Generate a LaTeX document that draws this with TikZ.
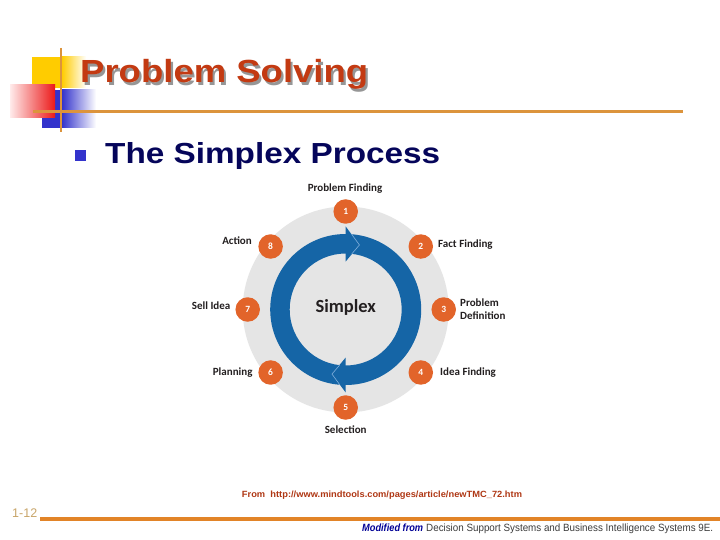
\documentclass[tikz,border=0pt]{standalone}
\usepackage{fontspec}
\setmainfont{Liberation Sans}
\newfontfamily\carl{Carlito}
\usepackage{graphicx}
\newcommand\fitw[2]{\resizebox{#1}{\height}{#2}}
\definecolor{titlered}{RGB}{195,58,18}
\definecolor{navytxt}{RGB}{5,5,90}
\definecolor{bulletblue}{RGB}{51,51,204}
\definecolor{sqyellow}{RGB}{255,204,0}
\definecolor{sqblue}{RGB}{51,51,204}
\definecolor{sqred}{RGB}{235,25,25}
\definecolor{lineorange}{RGB}{220,148,60}
\definecolor{footorange}{RGB}{226,132,40}
\definecolor{diskgray}{RGB}{229,229,229}
\definecolor{ringblue}{RGB}{21,101,166}
\definecolor{chevblue}{RGB}{130,175,220}
\definecolor{numorange}{RGB}{226,100,42}
\definecolor{lbltxt}{RGB}{35,31,32}
\definecolor{pagetan}{RGB}{200,165,105}
\definecolor{fromred}{RGB}{175,55,20}
\definecolor{modblue}{RGB}{0,0,150}
\definecolor{citegray}{RGB}{60,60,60}
\definecolor{shadowgray}{RGB}{150,150,150}
\newcommand\titletext{\fontsize{32}{32}\selectfont\bfseries\fitw{288pt}{Problem Solving}}
\tikzset{
  num/.style={circle, fill=numorange, text=white, minimum size=24.5pt, inner sep=0pt,
              font=\carl\bfseries\fontsize{9.5}{9.5}\selectfont},
  lbl/.style={inner sep=0pt, text=lbltxt, font=\carl\bfseries\fontsize{11}{12.5}\selectfont},
  chev/.style={draw=chevblue, line width=0.6pt},
  deco/.style={line width=2.5pt, draw=lineorange}
}
\begin{document}
\begin{tikzpicture}[x=1pt,y=-1pt]
\useasboundingbox (0,0) rectangle (720,540);
\fill[white] (0,0) rectangle (720,540);

% decorative squares
\fill[sqyellow] (32,57) rectangle (62,88);
\shade[left color=sqyellow, right color=white] (61.8,57) rectangle (86,88);
\fill[sqblue] (42,90) rectangle (62,128);
\shade[left color=sqblue, right color=white] (61.8,90) rectangle (96,128);
\shade[left color=red!8, right color=sqred] (10,85) rectangle (55,118);
\draw[deco] (61,48) -- (61,132);
\draw[deco] (33,111.7) -- (683,111.7);

% title with shadow (one node)
\node[anchor=base west, inner sep=0pt, text=titlered] (title) at (80,83)
  {\rlap{\hspace{2.2pt}\raisebox{-2.2pt}{\color{shadowgray}\titletext}}\titletext};

% bullet + subtitle
\fill[bulletblue] (75,150) rectangle (86,161);
\node[anchor=base west, inner sep=0pt, text=navytxt] (sub) at (105,163.3)
  {\fontsize{29}{29}\selectfont\bfseries\fitw{335pt}{The Simplex Process}};

% diagram
\begin{scope}[shift={(345.7,309.5)}, y=1pt]
  \fill[diskgray] (0,0) circle (103);
  \fill[ringblue, even odd rule] (0,0) circle (75.5) (0,0) circle (56);
  \fill[ringblue] (90:48) -- (90:83) -- (78:66) -- cycle;
  \fill[ringblue] (270:48) -- (270:83) -- (258:66) -- cycle;
  \draw[chev] (85.5:75.5) -- (78:66) -- (83.7:56);
  \draw[chev] (265.5:75.5) -- (258:66) -- (263.7:56);
  \node[inner sep=0pt, anchor=base, text=lbltxt, font=\carl\bfseries\fontsize{18.5}{20}\selectfont] (simplex) at (0,-3.2) {Simplex};

  \node[num] (n1) at (90:98) {1};
  \node[num] (n2) at (40:98) {2};
  \node[num] (n3) at (0:98) {3};
  \node[num] (n4) at (-40:98) {4};
  \node[num] (n5) at (-90:98) {5};
  \node[num] (n6) at (220:98) {6};
  \node[num] (n7) at (180:98) {7};
  \node[num] (n8) at (140:98) {8};

  \node[lbl, anchor=center] (l1) at (-0.7,120.5) {Problem Finding};
  \node[lbl, anchor=mid west] (l2) at (92.3,65) {Fact Finding};
  \node[lbl, anchor=west, align=left] (l3) at (114.3,0.5) {Problem\\Definition};
  \node[lbl, anchor=mid west] (l4) at (94.3,-63.5) {Idea Finding};
  \node[lbl, anchor=center] (l5) at (0,-120.5) {Selection};
  \node[lbl, anchor=mid east] (l6) at (-93,-63.5) {Planning};
  \node[lbl, anchor=mid east] (l7) at (-115.2,2.3) {Sell Idea};
  \node[lbl, anchor=mid east] (l8) at (-93.7,67.5) {Action};
\end{scope}

% footer
\node[anchor=center, inner sep=0pt, text=fromred] (src) at (382,495)
  {\fontsize{9}{9}\selectfont\bfseries\fitw{280pt}{From\ \ http://www.mindtools.com/pages/article/newTMC\_72.htm}};
\node[anchor=base west, inner sep=0pt, text=pagetan] (page) at (12,517)
  {\fontsize{12.5}{12.5}\selectfont 1-12};
\draw[line width=4pt, draw=footorange] (40,518.5) -- (720,518.5);
\node[anchor=base west, inner sep=0pt, text=modblue] (mod) at (362,531)
  {\fontsize{10.5}{10.5}\selectfont\bfseries\itshape\fitw{61pt}{Modified from}};
\node[anchor=base west, inner sep=0pt, text=citegray] (cite) at (426,531)
  {\fontsize{10.5}{10.5}\selectfont\fitw{287pt}{Decision Support Systems and Business Intelligence Systems 9E.}};
\end{tikzpicture}
\end{document}
